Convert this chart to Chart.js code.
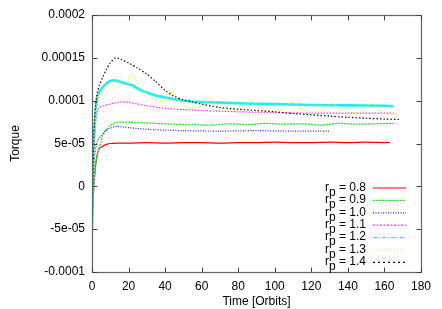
<!DOCTYPE html>
<html><head><meta charset="utf-8">
<script src="https://cdn.jsdelivr.net/npm/chart.js@4/dist/chart.umd.min.js"></script>
<style>html,body{margin:0;padding:0;background:#fff}canvas{display:block}</style>
</head><body>
<canvas id="c" width="442" height="309"></canvas>
<script>
// ---- data ----
const seriesNames = ["0.8", "0.9", "1.0", "1.1", "1.2", "1.3", "1.4"];
const xTickValues = [0, 20, 40, 60, 80, 100, 120, 140, 160, 180];
const yTickValues = [-0.0001, -0.00005, 0, 0.00005, 0.0001, 0.00015, 0.0002];
const yTickLabels = ["-0.0001", "-5e-05", "0", "5e-05", "0.0001", "0.00015", "0.0002"];

const t08 = [0,0.5,1,2,3,4,6,8,10,14,20,30,40,50,60,70,80,90,100,110,120,130,140,150,160,163];
const v08 = [-5e-5,-2e-5,0,2.5e-5,3.8e-5,4.4e-5,4.7e-5,4.9e-5,5.0e-5,5.05e-5,5.05e-5,5.1e-5,5.05e-5,5.1e-5,5.1e-5,5.05e-5,5.1e-5,5.1e-5,5.15e-5,5.1e-5,5.1e-5,5.15e-5,5.1e-5,5.15e-5,5.1e-5,5.1e-5];

const t09 = [0,0.5,1,2,3,4,5,6,8,10,13,17,25,35,45,55,65,75,85,95,105,115,125,135,145,155,165];
const v09 = [-5e-5,-2e-5,0,2.5e-5,3.8e-5,4.5e-5,5.2e-5,6.0e-5,6.6e-5,7.1e-5,7.45e-5,7.5e-5,7.45e-5,7.35e-5,7.25e-5,7.2e-5,7.15e-5,7.3e-5,7.2e-5,7.35e-5,7.25e-5,7.3e-5,7.15e-5,7.35e-5,7.25e-5,7.3e-5,7.35e-5];

const t10 = [0,0.5,1,2,3,5,7,10,14,18,25,35,50,70,90,110,130];
const v10 = [-5e-5,-1e-5,2.5e-5,4.5e-5,5.3e-5,5.9e-5,6.4e-5,6.8e-5,7.0e-5,6.9e-5,6.75e-5,6.6e-5,6.5e-5,6.45e-5,6.5e-5,6.45e-5,6.45e-5];

const t11 = [0,0.5,1,2,3,4,6,9,12,16,20,25,30,40,50,60,80,100,120,140,165];
const v11 = [-5e-5,0,4e-5,7.5e-5,8.7e-5,9.2e-5,9.4e-5,9.55e-5,9.7e-5,9.85e-5,9.8e-5,9.6e-5,9.4e-5,9.1e-5,8.95e-5,8.85e-5,8.7e-5,8.6e-5,8.55e-5,8.55e-5,8.55e-5];

const t12 = [0,0.5,1,2,3,4,6,8,10,13,17,22,27,32,37,42,50,60,80,100,120,140,160,165];
const v12 = [-5e-5,0,5e-5,9e-5,1.05e-4,1.1e-4,1.16e-4,1.2e-4,1.23e-4,1.235e-4,1.21e-4,1.18e-4,1.12e-4,1.08e-4,1.05e-4,1.03e-4,1.0e-4,9.85e-5,9.7e-5,9.6e-5,9.5e-5,9.45e-5,9.4e-5,9.35e-5];

const t13 = [0,0.5,1,2,3,4,6,8,10,13,16,19,22,26,30,35,40,44,48,53,58,62,65,70,76,82,87,92,98,104,109,114,120,126,131,136,142,148,153,158,163,168];
const v13 = [-5e-5,0,5e-5,8.8e-5,1.03e-4,1.08e-4,1.14e-4,1.18e-4,1.2e-4,1.21e-4,1.2e-4,1.18e-4,1.32e-4,1.18e-4,1.08e-4,1.0e-4,1.0e-4,1.1e-4,1.0e-4,9.2e-5,9.2e-5,9.6e-5,1.02e-4,9.2e-5,8.8e-5,9.2e-5,1.01e-4,9.2e-5,8.7e-5,9.0e-5,9.85e-5,9.1e-5,8.7e-5,8.9e-5,9.7e-5,9.0e-5,8.6e-5,8.8e-5,9.7e-5,8.8e-5,8.4e-5,8.3e-5];

const t14 = [0,0.5,1,2,3,4,6,8,10,13,16,20,25,30,35,40,45,50,55,60,70,80,90,100,110,120,130,140,150,160,168];
const v14 = [-5e-5,0,6e-5,9.5e-5,1.1e-4,1.18e-4,1.28e-4,1.37e-4,1.44e-4,1.5e-4,1.48e-4,1.44e-4,1.38e-4,1.31e-4,1.22e-4,1.12e-4,1.05e-4,1.01e-4,9.85e-5,9.6e-5,9.2e-5,9.0e-5,8.85e-5,8.7e-5,8.5e-5,8.35e-5,8.2e-5,8.05e-5,7.95e-5,7.85e-5,7.8e-5];

// ---- styling ----
const times = [t08, t09, t10, t11, t12, t13, t14];
const values = [v08, v09, v10, v11, v12, v13, v14];
const colors = ["#ff0000", "#22ee22", "#2222ff", "#ff33ff", "#22eeee", "#eeee22", "#111111"];
const dashes = [[], [2, 1], [1, 1.5], [1.5, 1.5], [], [1, 1.5], [1.5, 2]];
const widths = [1.2, 1.3, 1.2, 1.2, 2.6, 1.2, 1.2];
const legendDashes = [[], [2, 1], [1, 1.5], [2, 1.5], [4, 2, 1, 2], [1, 2], [2, 3]];
const FONT = "'Liberation Sans', Arial, sans-serif";

const datasets = seriesNames.map((n, i) => ({
  label: n,
  data: times[i].map((t, k) => ({ x: t, y: values[i][k] })),
  borderColor: colors[i],
  backgroundColor: colors[i],
  borderWidth: widths[i],
  borderDash: dashes[i],
  pointRadius: 0,
  tension: 0.25,
  fill: false,
  order: seriesNames.length - 1 - i
}));

const framePlugin = {
  id: 'frame',
  afterDatasetsDraw(chart) {
    const { ctx, chartArea: a, scales } = chart;
    ctx.save();
    ctx.strokeStyle = '#666666';
    ctx.lineWidth = 1.2;
    ctx.setLineDash([]);
    const L = Math.round(a.left) + 0.5, R = Math.round(a.right) + 0.5;
    const T = Math.round(a.top) + 0.5, B = Math.round(a.bottom) + 0.5;
    ctx.strokeRect(L, T, R - L, B - T);
    ctx.strokeStyle = '#444444';
    ctx.lineWidth = 1;
    ctx.beginPath();
    const tl = 5;
    scales.x.ticks.forEach(tk => {
      const px = Math.round(scales.x.getPixelForValue(tk.value)) + 0.5;
      ctx.moveTo(px, B); ctx.lineTo(px, B - tl);
      ctx.moveTo(px, T); ctx.lineTo(px, T + tl);
    });
    scales.y.ticks.forEach(tk => {
      const py = Math.round(scales.y.getPixelForValue(tk.value)) + 0.5;
      ctx.moveTo(L, py); ctx.lineTo(L + tl, py);
      ctx.moveTo(R, py); ctx.lineTo(R - tl, py);
    });
    ctx.stroke();

    // legend (gnuplot-like, bottom right inside the plot)
    const textRight = 366, lineL = 373, lineR = 406;
    const y0 = 187.5, dy = 12.4;
    chart.data.datasets.forEach((ds, i) => {
      const y = y0 + i * dy;
      ctx.fillStyle = '#000';
      ctx.textBaseline = 'middle';
      ctx.font = '12px ' + FONT;
      const rest = ' = ' + ds.label;
      const wRest = ctx.measureText(rest).width;
      const wP = ctx.measureText('p').width;
      const wR = ctx.measureText('r').width;
      let x = textRight - wRest - wP - wR;
      ctx.textAlign = 'left';
      ctx.fillText('r', x, y);
      ctx.fillText('p', x + wR, y + 5);
      ctx.fillText(rest, x + wR + wP, y);
      ctx.strokeStyle = ds.borderColor;
      ctx.lineWidth = 1.2;
      ctx.setLineDash(legendDashes[i]);
      ctx.beginPath();
      ctx.moveTo(lineL, y + 0.5); ctx.lineTo(lineR, y + 0.5);
      ctx.stroke();
    });
    ctx.restore();
  }
};

new Chart(document.getElementById('c'), {
  type: 'line',
  data: { datasets },
  options: {
    responsive: false,
    animation: false,
    devicePixelRatio: 1,
    layout: { padding: { top: 15, right: 21, left: 0, bottom: 0 } },
    plugins: { legend: { display: false }, tooltip: { enabled: false } },
    scales: {
      x: {
        type: 'linear', min: 0, max: 180,
        afterBuildTicks(s) { s.ticks = xTickValues.map(v => ({ value: v })); },
        afterFit(s) { s.height = 37; },
        grid: { display: false, drawTicks: false },
        border: { display: false },
        ticks: { color: '#000', font: { family: FONT, size: 12 }, padding: 7, maxRotation: 0 },
        title: { display: true, text: 'Time [Orbits]', color: '#000', font: { family: FONT, size: 12 }, padding: { top: 2, bottom: 0 } }
      },
      y: {
        type: 'linear', min: -0.0001, max: 0.0002,
        afterBuildTicks(s) { s.ticks = yTickValues.map(v => ({ value: v })); },
        afterFit(s) { s.width = 92; },
        grid: { display: false, drawTicks: false },
        border: { display: false },
        ticks: { color: '#000', font: { family: FONT, size: 12 }, padding: 7,
          callback: (v, idx) => yTickLabels[idx] },
        title: { display: true, text: 'Torque', color: '#000', font: { family: FONT, size: 12 }, padding: { top: 8, bottom: 0 } }
      }
    }
  },
  plugins: [framePlugin]
});
</script>
</body></html>
